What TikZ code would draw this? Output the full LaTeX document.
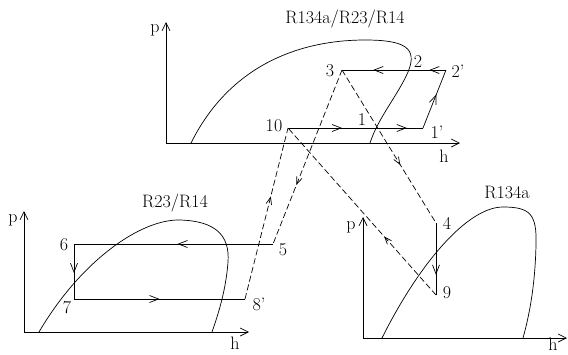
\documentclass[tikz,border=0pt]{standalone}
\usetikzlibrary{arrows.meta,decorations.markings}
\begin{document}
\begin{tikzpicture}[x=1pt,y=-1pt,line width=0.7pt,
  lbl/.style={font=\fontsize{18}{20}\selectfont,inner sep=0pt},
  axis/.style={-{Straight Barb[length=8pt,width=8pt]}},
  dsh/.style={dash pattern=on 6pt off 3pt},
  sarr/.style={postaction={decorate,decoration={markings,mark=at position #1 with {\arrow{Straight Barb[length=9pt,width=7pt]}}}}},
  darr/.style={postaction={decorate,decoration={markings,mark=at position #1 with {\arrow{Straight Barb[length=7pt,width=5.5pt]}}}}}]
\useasboundingbox (0,0) rectangle (568,354);
% ---- top diagram
\coordinate (o1) at (166,143);
\coordinate (py1) at (166,22);
\coordinate (hx1) at (460,143);
\draw[axis] (o1) -- (py1);
\draw[axis] (o1) -- (hx1);
\node[lbl] (lp1) at (155,30) {p};
\node[lbl] (lh1) at (444,156) {h};
\node[lbl] (t1) at (345,19) {R134a/R23/R14};
\draw (191,143) .. controls (235,55) and (315,40) .. (365,40)
  .. controls (405,40) and (418,48) .. (408,72)
  .. controls (398,95) and (378,118) .. (370,143);
\coordinate (P3) at (342,70);
\coordinate (P2p) at (446,70);
\coordinate (P1p) at (423,128);
\coordinate (P10) at (288,128);
\draw[sarr=0.40,sarr=0.88] (P10) -- (P1p);
\draw[sarr=0.58] (P1p) -- (P2p);
\draw[sarr=0.16,sarr=0.70] (P2p) -- (P3);
\node[lbl] (l3) at (330,71) {3};
\node[lbl] (l2) at (418,62) {2};
\node[lbl] (l2p) at (458,71) {2'};
\node[lbl] (l1) at (362,120) {1};
\node[lbl] (l1p) at (437,132) {1'};
\node[lbl] (l10) at (274,126) {10};
% ---- left diagram
\coordinate (o2) at (24,332);
\coordinate (py2) at (24,211);
\coordinate (hx2) at (249,332);
\draw[axis] (o2) -- (py2);
\draw[axis] (o2) -- (hx2);
\node[lbl] (lp2) at (13,220) {p};
\node[lbl] (lh2) at (235,343) {h};
\node[lbl] (t2) at (175,203) {R23/R14};
\draw (39,332) .. controls (80,262) and (140,219) .. (180,220)
  .. controls (215,221) and (230,235) .. (228,262)
  .. controls (226,290) and (218,315) .. (212,332);
\coordinate (P5) at (273,244);
\coordinate (P6) at (74,244);
\coordinate (P7) at (74,299);
\coordinate (P8p) at (245,299);
\draw[sarr=0.48] (P5) -- (P6);
\draw[sarr=0.53] (P6) -- (P7);
\draw[sarr=0.50] (P7) -- (P8p);
\node[lbl] (l5) at (283,250) {5};
\node[lbl] (l6) at (64,245) {6};
\node[lbl] (l7) at (67,308) {7};
\node[lbl] (l8p) at (259,304) {8'};
% ---- right diagram
\coordinate (o3) at (363,338);
\coordinate (py3) at (363,217);
\coordinate (hx3) at (567,338);
\draw[axis] (o3) -- (py3);
\draw[axis] (o3) -- (hx3);
\node[lbl] (lp3) at (351,227) {p};
\node[lbl] (lh3) at (553,344) {h};
\node[lbl] (t3) at (507,192) {R134a};
\draw (382,338) .. controls (420,262) and (468,207) .. (503,207)
  .. controls (530,207) and (537,214) .. (536,245)
  .. controls (535,290) and (528,320) .. (523,338);
\coordinate (P4) at (436,223);
\coordinate (P9) at (436,295);
\draw[sarr=0.72] (P4) -- (P9);
\node[lbl] (l4) at (447,223) {4};
\node[lbl] (l9) at (447,293) {9};
% ---- dashed connections
\draw[dsh,darr=0.62] (P3) -- (P4);
\draw[dsh,darr=0.35] (P9) -- (P10);
\draw[dsh,darr=0.66] (P3) -- (P5);
\draw[dsh,darr=0.60] (P8p) -- (P10);
\end{tikzpicture}
\end{document}
